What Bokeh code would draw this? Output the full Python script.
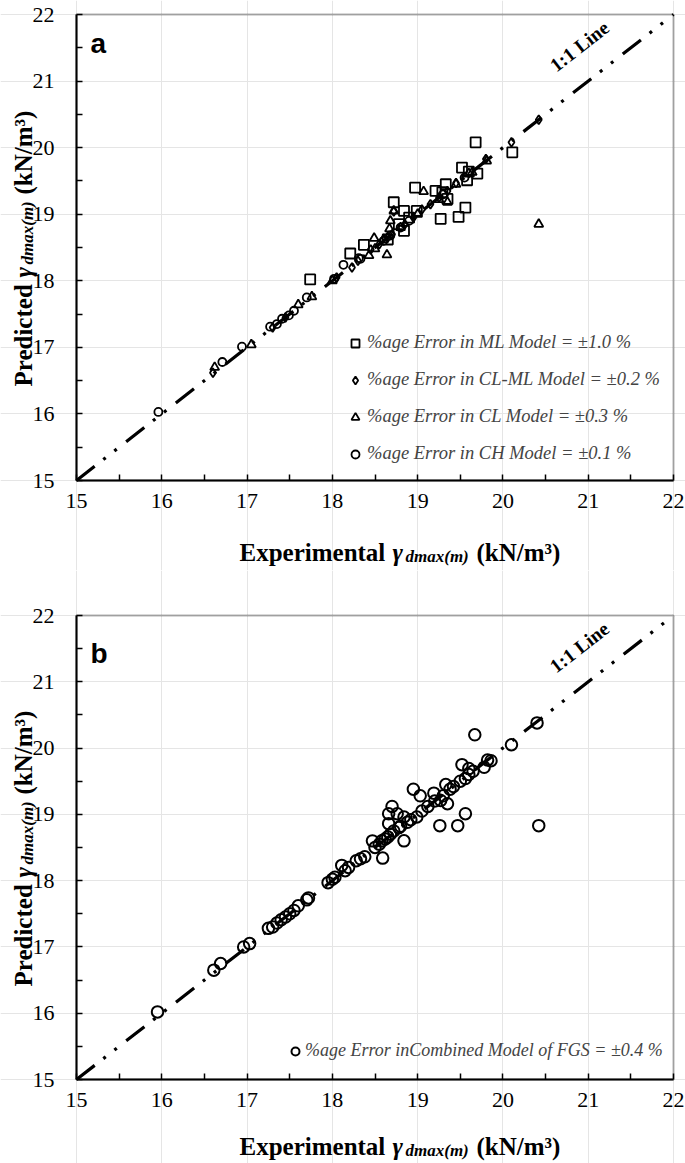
import math
from bokeh.plotting import figure
from bokeh.layouts import column
from bokeh.models import (FixedTicker, Legend, LegendItem, Label, Range1d, LinearAxis, BoxAnnotation)
from bokeh.embed import file_html
from bokeh.resources import INLINE

# ---------------- data (panel a) ----------------
ml_x = [17.74, 18.21, 18.37, 18.72, 18.84, 18.99, 18.97, 19.21, 19.29, 19.33, 19.35, 19.27, 19.48,
        19.56, 19.52, 19.60, 19.70, 19.58, 19.68, 20.11, 18.84, 18.90, 18.78, 18.65]
ml_y = [18.02, 18.41, 18.54, 19.18, 19.05, 19.05, 19.40, 19.35, 19.33, 19.45, 19.23, 18.93, 18.96,
        19.10, 19.70, 19.64, 19.61, 19.51, 20.08, 19.93, 18.75, 18.95, 18.85, 18.62]

cm_x = [16.60, 17.30, 17.45, 18.05, 18.23, 18.30, 18.55, 18.65, 18.72, 18.70, 18.85, 18.95, 19.15,
        19.25, 19.35, 19.60, 19.80, 20.10, 20.42, 18.45, 19.05, 19.45]
cm_y = [16.62, 17.30, 17.45, 18.05, 18.20, 18.30, 18.55, 18.65, 19.04, 18.70, 18.85, 18.95, 19.15,
        19.25, 19.35, 19.62, 19.83, 20.08, 20.42, 18.47, 19.07, 19.47]

cl_x = [16.62, 17.05, 17.60, 17.76, 18.00, 18.43, 18.50, 18.49, 18.64, 18.67, 18.68, 18.72, 19.07,
        19.35, 19.25, 19.64, 19.81, 20.42, 18.80, 18.60, 19.00, 19.45]
cl_y = [16.70, 17.04, 17.64, 17.76, 18.00, 18.38, 18.48, 18.64, 18.39, 18.78, 18.90, 19.05, 19.34,
        19.18, 19.22, 19.63, 19.80, 18.85, 18.80, 18.62, 19.00, 19.45]

ch_x = [15.96, 16.71, 16.94, 17.27, 17.35, 17.41, 17.49, 17.55, 17.70, 18.02, 18.13, 18.31, 18.33,
        18.60, 18.68, 18.80, 18.90, 19.30, 19.55]
ch_y = [16.03, 16.78, 17.01, 17.31, 17.35, 17.43, 17.48, 17.55, 17.75, 18.03, 18.24, 18.34, 18.33,
        18.60, 18.68, 18.80, 18.90, 19.30, 19.55]

# ---------------- data (panel b) ----------------
fgs_x = [15.95, 16.61, 16.69, 16.96, 17.03, 17.25, 17.30, 17.35, 17.40, 17.45, 17.50, 17.55, 17.60,
         17.72, 17.70, 17.95, 18.00, 18.03, 18.11, 18.19, 18.28, 18.33, 18.38, 18.47, 18.50, 18.55,
         18.59, 18.58, 18.62, 18.65, 18.66, 18.66, 18.68, 18.70, 18.72, 18.76, 18.78, 18.80, 18.84,
         18.84, 18.88, 18.92, 18.99, 19.03, 18.95, 19.05, 19.12, 19.19, 19.20, 19.26, 19.27, 19.30,
         19.35, 19.33, 19.38, 19.42, 19.47, 19.50, 19.52, 19.56, 19.56, 19.60, 19.60, 19.65, 19.67,
         19.78, 19.82, 19.86, 20.10, 20.40, 20.42, 18.15]
fgs_y = [16.02, 16.65, 16.75, 17.00, 17.05, 17.28, 17.30, 17.36, 17.41, 17.45, 17.50, 17.55, 17.62,
         17.74, 17.71, 17.97, 18.02, 18.05, 18.23, 18.20, 18.30, 18.33, 18.36, 18.60, 18.50, 18.55,
         18.34, 18.60, 18.63, 18.66, 18.86, 19.01, 18.70, 19.12, 18.75, 19.01, 18.80, 18.82, 18.96,
         18.60, 18.88, 18.92, 18.96, 19.28, 19.38, 19.05, 19.12, 19.32, 19.20, 18.83, 19.21, 19.28,
         19.16, 19.45, 19.38, 19.42, 18.83, 19.50, 19.75, 19.54, 19.01, 19.69, 19.60, 19.65, 20.20,
         19.71, 19.82, 19.81, 20.05, 20.38, 18.83, 18.15]

AX_MIN, AX_MAX = 15, 22
line_xy = [AX_MIN, AX_MAX]
major_ticks = [15, 16, 17, 18, 19, 20, 21, 22]
minor_ticks = [15.5, 16.5, 17.5, 18.5, 19.5, 20.5, 21.5]

legend_a = ["%age Error in ML Model = \u00b11.0 %",
            "%age Error in CL-ML Model = \u00b10.2 %",
            "%age Error in CL Model = \u00b10.3 %",
            "%age Error in CH Model = \u00b10.1 %"]
legend_b = "%age Error inCombined Model of FGS = \u00b10.4 %"

SERIF = "Liberation Serif"
W = 685
BOX_L, BOX_R = 76, 673          # page px of the axes box (left/right)
FS, SS = "25px", "17px"


def make_panel(fig_top, fig_h, box_top, box_bot):
    """Figure whose frame is the whole canvas; axes are pinned at 15 with fixed_location."""
    kx = (BOX_R - BOX_L) / (AX_MAX - AX_MIN)
    ky = (box_bot - box_top) / (AX_MAX - AX_MIN)
    xr = Range1d(AX_MIN - BOX_L / kx, AX_MAX + (W - BOX_R) / kx)
    yr = Range1d(AX_MIN - (fig_top + fig_h - box_bot) / ky, AX_MAX + (box_top - fig_top) / ky)
    p = figure(width=W, height=fig_h, x_range=xr, y_range=yr, x_axis_location=None, y_axis_location=None,
               min_border=0, min_border_left=0, min_border_right=0, min_border_top=0, min_border_bottom=0,
               output_backend="svg", toolbar_location=None)
    p.outline_line_color = None
    p.background_fill_color = "white"
    p.border_fill_color = "white"

    xa = LinearAxis(fixed_location=AX_MIN, bounds=(AX_MIN, AX_MAX))
    ya = LinearAxis(fixed_location=AX_MIN, bounds=(AX_MIN, AX_MAX))
    for ax in (xa, ya):
        ax.ticker = FixedTicker(ticks=major_ticks, minor_ticks=minor_ticks)
        ax.axis_line_width = 2
        ax.axis_line_color = "black"
        ax.major_tick_in = 6
        ax.major_tick_out = 0
        ax.minor_tick_in = 6
        ax.minor_tick_out = 0
        ax.major_tick_line_width = 1.5
        ax.minor_tick_line_width = 1.5
        ax.major_tick_line_color = "black"
        ax.minor_tick_line_color = "black"
        ax.major_label_text_font = SERIF
        ax.major_label_text_font_size = "22px"
        ax.major_label_text_color = "black"
    xa.major_label_standoff = 13
    ya.major_label_standoff = 22
    p.add_layout(xa, "below")
    p.add_layout(ya, "left")
    p.add_layout(BoxAnnotation(left=AX_MIN, right=AX_MAX, bottom=AX_MIN, top=AX_MAX, fill_alpha=0,
                               line_color="black", line_width=2, level="overlay"))
    p.line(line_xy, line_xy, line_color="black", line_width=3.2, line_dash="23 11 3 11 3 12")

    # page-pixel -> data helpers (text placement only)
    def dx(px):
        return AX_MIN + (px - BOX_L) / kx

    def dy(py):
        return AX_MIN + (box_bot - py) / ky

    return p, dx, dy


def put(p, x, y, t, style, size, angle=0.0, font=SERIF, align="left", baseline="alphabetic"):
    p.add_layout(Label(x=x, y=y, text=t, text_font=font, text_font_style=style, text_font_size=size,
                       text_color="black", angle=angle, text_align=align, text_baseline=baseline))


def decorate(p, dx, dy, box_top, box_bot, letter, letter_base, title_gap):
    put(p, dx(90), dy(letter_base), letter, "bold", "28px", font="Liberation Sans")
    ang = math.atan2(box_bot - box_top, BOX_R - BOX_L)
    put(p, dx(579), dy(box_top + 32), "1:1 Line", "bold", "19.5px", angle=ang, align="center",
        baseline="middle")
    # x title
    base = box_bot + title_gap
    put(p, dx(239), dy(base), "Experimental", "bold", FS)
    put(p, dx(392), dy(base), "\u03b3", "bold italic", FS)
    put(p, dx(405), dy(base + 4), "dmax(m)", "bold italic", SS)
    put(p, dx(476), dy(base), "(kN/m\u00b3)", "bold", FS)
    # y title (rotated, reading upwards)
    a = math.pi / 2
    start = (box_top + box_bot) / 2 + 139
    put(p, dx(23), dy(start), "Predicted", "bold", FS, a)
    put(p, dx(23), dy(start - 109), "\u03b3", "bold italic", FS, a)
    put(p, dx(27), dy(start - 122), "dmax(m)", "bold italic", SS, a)
    put(p, dx(23), dy(start - 192), "(kN/m\u00b3)", "bold", FS, a)


# ---------------- panel a ----------------
A_FT, A_FH, A_BT, A_BB = 0, 570, 14, 480
pa, dxa, dya = make_panel(A_FT, A_FH, A_BT, A_BB)
kw = dict(fill_alpha=0, line_color="black", line_width=1.8)
r_ml = pa.scatter(ml_x, ml_y, marker="square", size=10, **kw)
r_cm = pa.scatter(cm_x, cm_y, marker="diamond", size=9, **kw)
r_cl = pa.scatter(cl_x, cl_y, marker="triangle", size=9, **kw)
r_ch = pa.scatter(ch_x, ch_y, marker="circle", size=8, **kw)
leg_a = Legend(items=[LegendItem(label=legend_a[0], renderers=[r_ml]),
                      LegendItem(label=legend_a[1], renderers=[r_cm]),
                      LegendItem(label=legend_a[2], renderers=[r_cl]),
                      LegendItem(label=legend_a[3], renderers=[r_ch])],
               location=(345, 106), border_line_alpha=0, background_fill_alpha=0,
               label_text_font=SERIF, label_text_font_style="italic", label_text_font_size="18.5px",
               glyph_width=20, glyph_height=20, label_height=20, spacing=16, padding=0, margin=0,
               label_standoff=2)
pa.add_layout(leg_a, "center")
decorate(pa, dxa, dya, A_BT, A_BB, "a", 43, 72)

# ---------------- panel b ----------------
B_FT, B_FH, B_BT, B_BB = 570, 593, 615, 1079
pb, dxb, dyb = make_panel(B_FT, B_FH, B_BT, B_BB)
r_fgs = pb.scatter(fgs_x, fgs_y, marker="circle", size=11.5, fill_alpha=0, line_color="black", line_width=2)
leg_b = Legend(items=[LegendItem(label=legend_b, renderers=[r_fgs])],
               location=(285, 102), border_line_alpha=0, background_fill_alpha=0,
               label_text_font=SERIF, label_text_font_style="italic", label_text_font_size="18px",
               glyph_width=20, glyph_height=20, label_height=20, padding=0, margin=0, label_standoff=0)
pb.add_layout(leg_b, "center")
decorate(pb, dxb, dyb, B_BT, B_BB, "b", 653, 67)

layout = column(pa, pb, spacing=0)
open("out.html", "w").write(file_html(layout, INLINE))
